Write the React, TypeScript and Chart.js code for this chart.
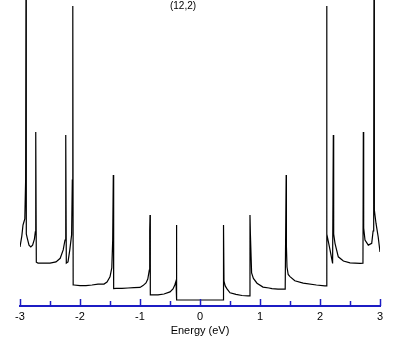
import { useEffect, useRef } from "react";
import { Chart, registerables } from "chart.js";

Chart.register(...registerables);

// Energy grid (eV) and density of states (arbitrary units)
const energy = [
  -3.0, -2.97, -2.95, -2.935, -2.92, -2.906, -2.9, -2.895, -2.88, -2.85, -2.82, -2.79, -2.76, -2.745, -2.74, -2.735,
  -2.728, -2.7, -2.6, -2.5, -2.4, -2.33, -2.28, -2.25, -2.24, -2.235,
  -2.228, -2.2, -2.17, -2.14, -2.128, -2.12,
  -2.114, -2.1, -2.0, -1.9, -1.8, -1.7, -1.6, -1.55, -1.5, -1.47, -1.455, -1.445,
  -1.439, -1.4, -1.3, -1.2, -1.1, -1.0, -0.95, -0.9, -0.87, -0.845, -0.838, -0.833,
  -0.828, -0.8, -0.7, -0.6, -0.5, -0.45, -0.42, -0.4, -0.392, -0.388,
  0.388, 0.392, 0.4, 0.42, 0.45, 0.5, 0.6, 0.7, 0.8, 0.828, 0.833,
  0.84, 0.86, 0.89, 0.95, 1.05, 1.15, 1.2, 1.3, 1.42, 1.431, 1.436,
  1.44, 1.45, 1.47, 1.5, 1.58, 1.72, 1.94, 2.08, 2.106, 2.111,
  2.116, 2.167, 2.21, 2.222, 2.228, 2.25, 2.305, 2.39, 2.5, 2.667, 2.716, 2.722,
  2.728, 2.75, 2.805, 2.862, 2.885, 2.895, 2.9, 2.906, 2.933, 2.97, 3.0,
];

const dos = [
  17.7, 21.3, 25.0, 26.0, 27.0, 40.0, 110, 22.0, 20.7, 18.3, 17.7, 18.3, 20.3, 22.7, 30, 56,
  12.6, 12.3, 12.3, 12.3, 12.7, 13.9, 16.7, 20.0, 40, 55,
  12.3, 12.7, 16.7, 21.7, 40, 98,
  5.0, 5.0, 4.8, 4.8, 5.0, 5.3, 5.3, 6.0, 7.7, 10.7, 20, 41.7,
  3.8, 3.9, 3.9, 4.0, 4.1, 4.2, 4.8, 5.7, 7.0, 10.0, 23, 28.3,
  1.7, 1.7, 1.7, 2.0, 2.7, 3.7, 5.0, 6.3, 25, 0,
  0, 25, 6.3, 4.7, 3.7, 2.4, 1.9, 1.5, 1.4, 1.4, 28.3,
  22, 9.0, 7.2, 5.6, 4.3, 4.0, 3.8, 3.6, 3.6, 3.6, 41.7,
  18, 11, 8.5, 7.8, 6.4, 5.6, 5.0, 4.7, 4.7, 98,
  22, 16.7, 12.2, 55, 22, 18.9, 14.4, 13.0, 12.4, 12.2, 12.3, 56,
  24, 20, 18.3, 18.9, 23, 40, 110, 30, 25.6, 21, 16,
];

const majorTicks = [-3, -2, -1, 0, 1, 2, 3];
const minorTicks = [-2.5, -1.5, -0.5, 0.5, 1.5, 2.5];
const chartTitle = "(12,2)";
const xTitle = "Energy (eV)";

const AXIS_BLUE = "#1c1cc4";
const FONT = "'Liberation Sans', Arial, sans-serif";

export default function App() {
  const ref = useRef<HTMLCanvasElement>(null);

  useEffect(() => {
    if (!ref.current) return;
    const overlay = {
      id: "overlay",
      afterDraw(chart: any) {
        const ctx = chart.ctx as CanvasRenderingContext2D;
        const xs = chart.scales.x;
        const base = xs.top;
        ctx.save();
        ctx.strokeStyle = AXIS_BLUE;
        ctx.lineWidth = 1.5;
        const draw = (v: number, len: number) => {
          const px = Math.round(xs.getPixelForValue(v)) + 0.5;
          ctx.beginPath();
          ctx.moveTo(px, base);
          ctx.lineTo(px, base - len);
          ctx.stroke();
        };
        majorTicks.forEach((v) => draw(v, 7));
        minorTicks.forEach((v) => draw(v, 5));
        ctx.fillStyle = "#000";
        ctx.font = `10px ${FONT}`;
        ctx.textAlign = "center";
        ctx.textBaseline = "alphabetic";
        ctx.fillText(chartTitle, 183, 9);
        ctx.restore();
      },
    };

    const chart = new Chart(ref.current, {
      type: "line",
      data: {
        datasets: [
          {
            data: energy.map((e, i) => ({ x: e, y: dos[i] })),
            borderColor: "#000",
            borderWidth: 1.2,
            pointRadius: 0,
            tension: 0,
            fill: false,
          },
        ],
      },
      options: {
        animation: false,
        responsive: false,
        layout: { padding: { left: 20, right: 29, top: 0, bottom: 0 } },
        plugins: { legend: { display: false }, tooltip: { enabled: false } },
        scales: {
          x: {
            type: "linear",
            min: -3,
            max: 3,
            afterFit: (s: any) => {
              s.height = 39;
            },
            grid: { display: false, drawTicks: false },
            border: { display: true, color: AXIS_BLUE, width: 2 },
            ticks: {
              stepSize: 1,
              padding: 4,
              color: "#000",
              font: { family: FONT, size: 11 },
            },
            title: {
              display: true,
              text: xTitle,
              color: "#000",
              font: { family: FONT, size: 11 },
              padding: { top: 0, bottom: 7 },
            },
          },
          y: { display: false, min: -2, max: 100 },
        },
      },
      plugins: [overlay],
    });
    return () => chart.destroy();
  }, []);

  return (
    <div style={{ position: "fixed", left: 0, top: 0, width: 409, height: 345, background: "#fff" }}>
      <canvas ref={ref} width={409} height={345} />
    </div>
  );
}
